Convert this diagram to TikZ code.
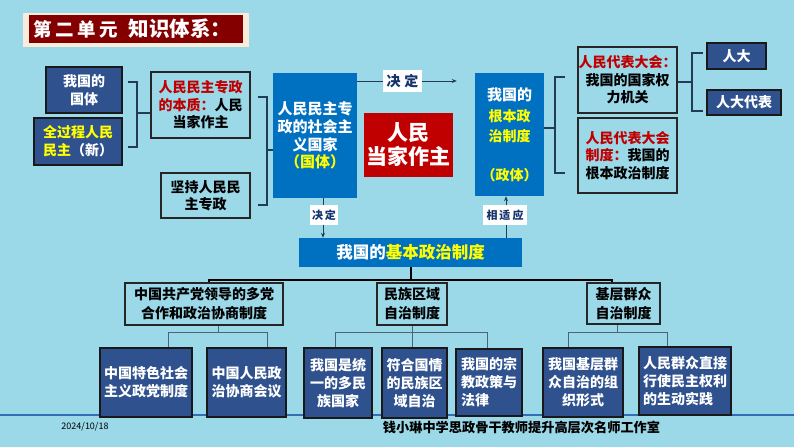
\documentclass[tikz,border=0pt]{standalone}
\usepackage{fontspec}
\newfontfamily\cjk{Noto Sans CJK SC}
\usetikzlibrary{arrows.meta}
\definecolor{bg}{RGB}{155,216,232}
\definecolor{dblue}{RGB}{47,82,143}
\definecolor{mblue}{RGB}{0,112,192}
\definecolor{bred}{RGB}{192,0,0}
\definecolor{tred}{RGB}{132,0,0}
\definecolor{cream}{RGB}{250,236,218}
\definecolor{yel}{RGB}{255,255,0}
\definecolor{labc}{RGB}{20,50,110}
\definecolor{lnc}{RGB}{35,60,85}
\definecolor{hline}{RGB}{50,110,180}
\newcommand\myfs[2]{\fontsize{#1}{#2}\selectfont}
\tikzset{
  dbox/.style={draw=black!90, line width=1.3pt, fill=dblue, text=white, inner sep=0pt, align=center, font=\cjk\bfseries\myfs{14}{18}},
  lbox/.style={draw=black!85, line width=1.3pt, fill=bg, text=black, inner sep=0pt, align=center, font=\cjk\bfseries\myfs{14}{17.5}},
  bbox/.style={fill=mblue, text=white, inner sep=0pt, align=center},
  lab/.style={fill=white, text=labc, inner sep=0pt, font=\cjk\bfseries\myfs{11}{11}},
  arr/.style={draw=lnc, line width=1pt, -{Stealth[length=5pt,width=4pt]}},
  brk/.style={draw=lnc, line width=1.2pt},
  tree/.style={draw=black, line width=1.2pt},
  ltree/.style={draw=lnc!80, line width=1pt}
}
\begin{document}
\begin{tikzpicture}[x=1pt,y=-1pt]
\useasboundingbox (0,0) rectangle (794,447);
\fill[bg] (0,0) rectangle (794,447);
% bottom blue rule
\draw[hline, line width=1.5pt] (0,415) -- (794,415);
% title
\fill[cream] (23,13) rectangle (249,47);
\fill[tred] (29,15) rectangle (243,43);
\node[text=white, inner sep=0pt, font=\cjk\bfseries\myfs{18.5}{18}] (t1) at (76,29) {第\hspace{3.5pt}二\hspace{3.5pt}单\hspace{3.5pt}元};
\node[text=white, inner sep=0pt, font=\cjk\bfseries\myfs{20.5}{21}] (t2) at (180,29) {知识体系：};
% left column
\node[dbox, minimum width=76pt, minimum height=46pt] (guoti) at (84,90) {我国的\\国体};
\node[dbox, minimum width=88pt, minimum height=47pt, align=left] (quan) at (78,141.5) {\textcolor{yel}{全过程人民}\\\textcolor{yel}{民主}（新）};
\node[lbox, minimum width=99pt, minimum height=66pt] (benzhi) at (200.5,105) {\textcolor{bred}{人民民主专政}\\\textcolor{bred}{的本质：}人民\\当家作主};
\node[lbox, minimum width=89pt, minimum height=45pt] (jianchi) at (205.5,195.5) {坚持人民民\\主专政};
% bracket 1
\coordinate (b1a) at (128,82);
\coordinate (b1b) at (128,147);
\coordinate (b1m) at (137,113);
\draw[brk] (b1a) -- (b1a -| b1m) -- (b1b -| b1m) -- (b1b);
\draw[brk] (b1m) -- (benzhi.west |- b1m);
% bracket 2
\coordinate (b2a) at (258,97);
\coordinate (b2b) at (258,205);
\coordinate (b2m) at (267,150);
\draw[brk] (b2a) -- (b2a -| b2m) -- (b2b -| b2m) -- (b2b);
% state box
\node[bbox, minimum width=84pt, minimum height=125pt, font=\cjk\bfseries\myfs{15}{17.7}] (guo) at (315,135.5) {人民民主专\\政的社会主\\义国家\\\textcolor{yel}{（国体）}};
\draw[brk] (b2m) -- (guo.west |- b2m);
% red box
\node[fill=bred, text=white, inner sep=0pt, align=center, minimum width=89pt, minimum height=64pt, font=\cjk\bfseries\myfs{21}{24}] (zhu) at (408.5,145) {人民\\当家作主};
% government box
\node[bbox, minimum width=69pt, minimum height=123pt, font=\cjk\bfseries\myfs{15}{20}] (zheng) at (509.5,134.5) {我国的\\[1pt]\textcolor{yel}{\myfs{14}{20}根本政}\\\textcolor{yel}{\myfs{14}{20}治制度}\\[19pt]\textcolor{yel}{\myfs{14}{20}（政体）}};
% top arrow
\coordinate (a1) at (0,81);
\draw[arr, shorten >=18pt] (guo.east |- a1) -- (zheng.west |- a1);
\node[lab, minimum width=39pt, minimum height=22pt, font=\cjk\bfseries\myfs{14}{14}] (l1) at (402.5,81) {决\hspace{4pt}定};
% right column
\node[lbox, minimum width=99pt, minimum height=66pt] (rd) at (627.5,80) {\textcolor{bred}{人民代表大会：}\\我国的国家权\\力机关};
\node[lbox, minimum width=99pt, minimum height=75pt] (rdzd) at (627.5,155.5) {\textcolor{bred}{人民代表大会}\\\textcolor{bred}{制度：}我国的\\根本政治制度};
\coordinate (b3a) at (565,77);
\coordinate (b3b) at (565,173);
\coordinate (b3m) at (555,128);
\draw[brk] (b3a) -- (b3a -| b3m) -- (b3b -| b3m) -- (b3b);
\draw[brk] (zheng.east |- b3m) -- (b3m);
\node[dbox, minimum width=59pt, minimum height=26pt] (rda) at (736.5,56) {人大};
\node[dbox, minimum width=74pt, minimum height=25pt] (rdb) at (744,102.5) {人大代表};
\coordinate (b4a) at (703,53);
\coordinate (b4b) at (703,111);
\coordinate (b4m) at (692,82);
\draw[brk] (b4a) -- (b4a -| b4m) -- (b4b -| b4m) -- (b4b);
\draw[brk] (rd.east |- b4m) -- (b4m);
% main system box
\node[bbox, minimum width=223pt, minimum height=29pt, font=\cjk\bfseries\myfs{16.5}{17}] (jb) at (410.5,252.5) {我国的\textcolor{yel}{基本政治制度}};
% vertical arrows
\coordinate (d1) at (323,0);
\coordinate (u1) at (506,0);
\draw[arr] (guo.south -| d1) -- (jb.north -| d1);
\draw[arr] (jb.north -| u1) -- (zheng.south -| u1);
\node[lab, minimum width=28pt, minimum height=20pt] (l2) at (324,215) {决\hspace{2pt}定};
\node[lab, minimum width=44pt, minimum height=20pt] (l3) at (505,215) {相\hspace{2pt}适\hspace{2pt}应};
% level 2
\node[lbox, minimum width=158pt, minimum height=42pt, font=\cjk\bfseries\myfs{14}{19}] (A) at (204,304) {中国共产党领导的多党\\合作和政治协商制度};
\node[lbox, minimum width=70pt, minimum height=42pt, font=\cjk\bfseries\myfs{14}{19}] (B) at (412,304) {民族区域\\自治制度};
\node[lbox, minimum width=73pt, minimum height=41pt, font=\cjk\bfseries\myfs{14}{19}] (C) at (623.5,303.5) {基层群众\\自治制度};
\coordinate (h1) at (209,280);
\coordinate (h2) at (411,280);
\coordinate (h3) at (612,280);
\draw[tree] (jb.south -| h2) -- (h2);
\draw[tree] (A.north -| h1) -- (h1) -- (h3) -- (C.north -| h3);
% level 3
\node[dbox, minimum width=92pt, minimum height=69pt] (L1) at (146,382.5) {中国特色社会\\主义政党制度};
\node[dbox, minimum width=79pt, minimum height=69pt] (L2) at (246.5,382.5) {中国人民政\\治协商会议};
\node[dbox, minimum width=68pt, minimum height=70pt] (L3) at (338,383) {我国是统\\一的多民\\族国家};
\node[dbox, minimum width=65pt, minimum height=70pt] (L4) at (414.5,383) {符合国情\\的民族区\\域自治};
\node[dbox, minimum width=66pt, minimum height=67pt, align=left] (L5) at (489,382.5) {我国的宗\\教政策与\\法律\phantom{政策}};
\node[dbox, minimum width=80pt, minimum height=69pt] (L6) at (583,382.5) {我国基层群\\众自治的组\\织形式};
\node[dbox, minimum width=92pt, minimum height=68pt, align=left] (L7) at (685,381) {人民群众直接\\行使民主权利\\的生动实践};
% level 2 -> 3 connectors
\coordinate (ya) at (0,332);
\coordinate (ka1) at (218,0);
\coordinate (ka2) at (168,0);
\coordinate (ka3) at (267,0);
\draw[ltree] (A.south -| ka1) -- (ya -| ka1);
\draw[ltree] (L1.north -| ka2) -- (ya -| ka2) -- (ya -| ka3) -- (L2.north -| ka3);
\coordinate (kb1) at (412,0);
\coordinate (kb2) at (335,0);
\coordinate (kb3) at (487,0);
\draw[ltree] (B.south -| kb1) -- (L4.north -| kb1);
\draw[ltree] (L3.north -| kb2) -- (ya -| kb2) -- (ya -| kb3) -- (L5.north -| kb3);
\coordinate (kc1) at (617,0);
\coordinate (kc2) at (568,0);
\coordinate (kc3) at (667,0);
\draw[ltree] (C.south -| kc1) -- (ya -| kc1);
\draw[ltree] (L6.north -| kc2) -- (ya -| kc2) -- (ya -| kc3) -- (L7.north -| kc3);
% footer
\node[inner sep=0pt, font=\cjk\myfs{9}{9}] (date) at (85,427) {2024/10/18};
\node[inner sep=0pt, font=\cjk\bfseries\myfs{13.2}{14}] (foot) at (521.5,427) {钱小琳中学思政骨干教师提升高层次名师工作室};
\end{tikzpicture}
\end{document}
